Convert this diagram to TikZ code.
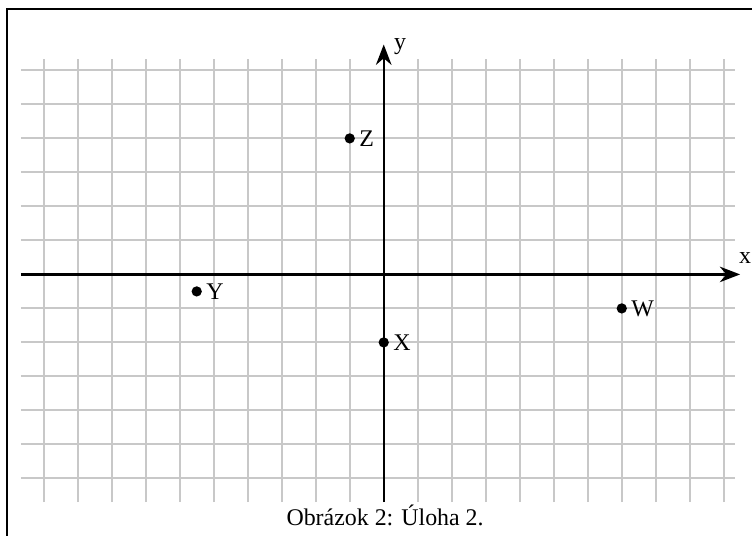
\documentclass[tikz,border=0pt]{standalone}
\usepackage{fontspec}
\setmainfont{Liberation Serif}
\usepackage{tikz}
\usetikzlibrary{arrows.meta,positioning}
\definecolor{gridgray}{RGB}{200,200,200}

\begin{document}
\begin{tikzpicture}[
    x=0.5cm,y=0.5cm,
    gridline/.style={gridgray,line width=0.8pt},
    axis/.style={-{Stealth[length=8.5pt,width=6.5pt]},line width=1pt},
    pt/.style={circle,fill,inner sep=0pt,minimum size=4.3pt},
    lbl/.style={inner sep=0.5pt},
  ]
  \useasboundingbox (-11.285,-7.69) rectangle (10.83,8.07);
  % frame
  \draw[line width=0.8pt] (-11.08,-8) -- (-11.08,7.8) -- (11.5,7.8);
  % grid
  \foreach \i in {-10,...,10}
    \draw[gridline] (\i,-6.7) -- (\i,6.33);
  \foreach \j in {-6,...,6}
    \draw[gridline] (-10.67,\j) -- (10.33,\j);
  % axes
  \coordinate (xmin) at (-10.67,0);
  \coordinate (xmax) at (10.48,0);
  \coordinate (ymin) at (0,-6.7);
  \coordinate (ymax) at (0,6.76);
  \draw[axis](xmin)--(xmax);
  \draw[axis](ymin)--(ymax);
  \node[inner sep=0pt](xlab) at (10.63,0.48){x};
  \node[inner sep=0pt](ylab) at (0.48,6.7){y};
  % points
  \node[pt](z) at (-1,4){};
  \node[pt](y) at (-5.5,-0.5){};
  \node[pt](x) at (0,-2){};
  \node[pt](w) at (7,-1){};
  \node[lbl,right=1pt of z](zlab){Z};
  \node[lbl,right=1pt of y](ylbl){Y};
  \node[lbl,right=1pt of x](xlbl){X};
  \node[lbl,right=1pt of w](wlbl){W};
  % caption
  \node[anchor=base](cap) at (0.04,-7.37){Obrázok 2: Úloha 2.};
\end{tikzpicture}
\end{document}
